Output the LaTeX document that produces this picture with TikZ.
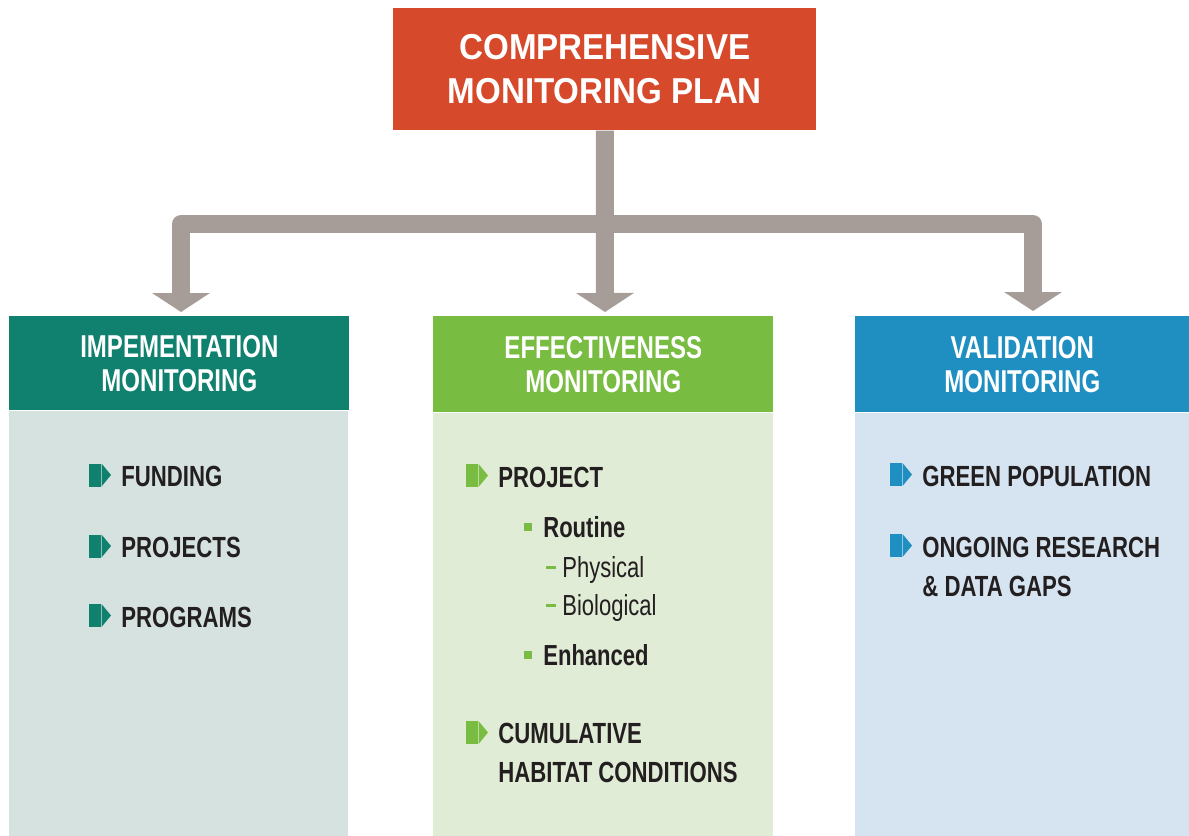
\documentclass[tikz,border=0pt]{standalone}
\usepackage{fontspec}
\setmainfont{Liberation Sans}
\newfontfamily\condfont[FakeStretch=0.76]{Liberation Sans}
\newfontfamily\headfont[FakeStretch=0.92]{Liberation Sans}
\usetikzlibrary{positioning,calc,arrows.meta}

\definecolor{planred}{HTML}{D6492A}
\definecolor{stemgray}{HTML}{A69D98}
\definecolor{impteal}{HTML}{10806F}
\definecolor{impback}{HTML}{D6E2DF}
\definecolor{effgreen}{HTML}{79BC42}
\definecolor{effback}{HTML}{E1ECD6}
\definecolor{valblue}{HTML}{1F8FC2}
\definecolor{valback}{HTML}{D6E4F1}
\definecolor{inkdark}{HTML}{231F20}

\begin{document}
\begin{tikzpicture}
[
    x=0.02cm, y=-0.02cm,
    stem/.style={draw=stemgray, line width=0.36cm, line join=round,
        -{Triangle[width=1.14cm, length=0.38cm]}},
    planbox/.style={fill=planred, text=white, anchor=north west, align=center,
        minimum width=8.46cm, minimum height=2.44cm,
        font=\headfont\bfseries\fontsize{20.5}{25}\selectfont},
    headbox/.style={text=white, anchor=north west, align=center,
        minimum width=6.8cm, minimum height=1.9cm, inner sep=0pt,
        font=\condfont\bfseries\fontsize{18}{19.3}\selectfont},
    bodybox/.style={anchor=north west, minimum width=6.8cm, inner sep=0pt},
    item/.style={anchor=base west, inner sep=0pt, text=inkdark, align=left,
        font=\condfont\bfseries\fontsize{16.6}{22}\selectfont},
    subitem/.style={item, font=\condfont\bfseries\fontsize{16.5}{20}\selectfont},
    subsubitem/.style={item, font=\condfont\fontsize{16.5}{20}\selectfont},
    tabmark/.pic={
        \fill (-32,-23) rectangle (-20.5,0);
        \fill (-19.5,-23) -- (-10,-11.5) -- (-19.5,0) -- cycle;
    },
]
\useasboundingbox (0,0) rectangle (1189,835);

\node [planbox] (plan) at (393,8) {COMPREHENSIVE\\MONITORING PLAN};

\node [headbox, fill=impteal, minimum height=1.88cm] (imp) at (9,316)
    {IMPEMENTATION\\MONITORING};
\node [headbox, fill=effgreen, minimum height=1.92cm] (eff) at (433,316)
    {EFFECTIVENESS\\MONITORING};
\node [headbox, fill=valblue, minimum height=1.92cm, minimum width=6.68cm] (val) at (855,316)
    {VALIDATION\\MONITORING};

\node [bodybox, fill=impback, minimum height=8.52cm, minimum width=6.78cm] (impbody) at (imp.south west) {};
\node [bodybox, fill=effback, minimum height=8.46cm] (effbody) at (eff.south west) {};
\node [bodybox, fill=valback, minimum height=8.46cm, minimum width=6.68cm] (valbody) at (val.south west) {};

\coordinate (split) at (605,224);
\coordinate (dropimp) at (181,312);
\coordinate (dropeff) at (605,312);
\coordinate (dropval) at (1033,311);
\draw [stem] (split) -| (dropimp);
\draw [stem] (split) -| (dropval);
\draw [stem] (plan.south) -- (dropeff);

\node [item] (funding) at (121,486.5) {FUNDING};
\node [item] (projects) at (121,557.5) {PROJECTS};
\node [item] (programs) at (121,627) {PROGRAMS};
\foreach \n in {funding,projects,programs}
    \pic [fill=impteal] at (\n.base west) {tabmark};

% two-line items sit on the baseline of their last line
\node [item] (project) at (498,487) {PROJECT};
\node [subitem] (routine) at (543,537) {Routine};
\node [subsubitem] (physical) at (562,577) {Physical};
\node [subsubitem] (biological) at (562,615) {Biological};
\node [subitem] (enhanced) at (543,665) {Enhanced};
\node [item] (cumulative) at (498,782) {CUMULATIVE\\HABITAT CONDITIONS};
\pic [fill=effgreen] at (project.base west) {tabmark};
\pic [fill=effgreen] at ($(cumulative.base west)+(0,-38)$) {tabmark};
\foreach \n in {routine,enhanced}
    \fill [effgreen] ($(\n.base west)+(-19,-14)$) rectangle ($(\n.base west)+(-11,-6)$);
\foreach \n in {physical,biological}
    \fill [effgreen] ($(\n.base west)+(-16,-11.5)$) rectangle ($(\n.base west)+(-6,-8.5)$);

\node [item] (green) at (922,486) {GREEN POPULATION};
\node [item] (ongoing) at (922,596) {ONGOING RESEARCH\\\& DATA GAPS};
\pic [fill=valblue] at (green.base west) {tabmark};
\pic [fill=valblue] at ($(ongoing.base west)+(0,-39)$) {tabmark};
\end{tikzpicture}
\end{document}
